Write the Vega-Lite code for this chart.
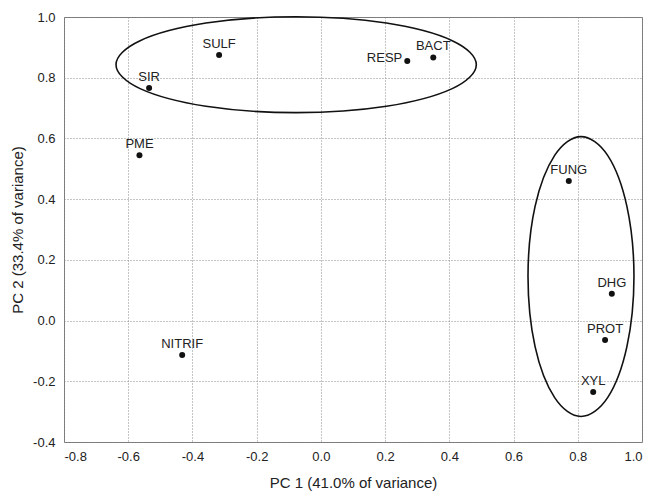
{
  "$schema": "https://vega.github.io/schema/vega-lite/v6.json",
  "width": 578,
  "height": 425,
  "autosize": "none",
  "padding": {"left": 64, "top": 17, "right": 20, "bottom": 60},
  "background": "white",
  "config": {
    "view": {"stroke": "#777", "strokeWidth": 1},
    "font": "Liberation Sans",
    "axis": {
      "domain": false,
      "ticks": false,
      "grid": true,
      "gridColor": "#8a8a8a",
      "gridDash": [1, 2],
      "gridWidth": 1,
      "gridOpacity": 1,
      "labelFont": "Liberation Sans",
      "labelFontSize": 13,
      "labelColor": "#222",
      "titleFont": "Liberation Sans",
      "titleFontSize": 15,
      "titleFontWeight": "normal",
      "titleColor": "#222"
    }
  },
  "datasets": {
    "pts": [
      {"name": "SULF", "pc1": -0.317, "pc2": 0.875},
      {"name": "SIR", "pc1": -0.535, "pc2": 0.766},
      {"name": "PME", "pc1": -0.565, "pc2": 0.545},
      {"name": "NITRIF", "pc1": -0.432, "pc2": -0.113},
      {"name": "RESP", "pc1": 0.269, "pc2": 0.855},
      {"name": "BACT", "pc1": 0.35, "pc2": 0.867},
      {"name": "FUNG", "pc1": 0.772, "pc2": 0.46},
      {"name": "DHG", "pc1": 0.906, "pc2": 0.088},
      {"name": "PROT", "pc1": 0.885, "pc2": -0.064},
      {"name": "XYL", "pc1": 0.848, "pc2": -0.235}
    ],
    "ell": [
      {"g": "A", "k": 0, "pc1": 0.484, "pc2": 0.843},
      {"g": "A", "k": 1, "pc1": 0.409, "pc2": 0.922},
      {"g": "A", "k": 2, "pc1": 0.204, "pc2": 0.98},
      {"g": "A", "k": 3, "pc1": -0.077, "pc2": 1.001},
      {"g": "A", "k": 4, "pc1": -0.358, "pc2": 0.98},
      {"g": "A", "k": 5, "pc1": -0.563, "pc2": 0.922},
      {"g": "A", "k": 6, "pc1": -0.638, "pc2": 0.843},
      {"g": "A", "k": 7, "pc1": -0.563, "pc2": 0.764},
      {"g": "A", "k": 8, "pc1": -0.358, "pc2": 0.706},
      {"g": "A", "k": 9, "pc1": -0.077, "pc2": 0.685},
      {"g": "A", "k": 10, "pc1": 0.204, "pc2": 0.706},
      {"g": "A", "k": 11, "pc1": 0.409, "pc2": 0.764},
      {"g": "B", "k": 0, "pc1": 0.975, "pc2": 0.145},
      {"g": "B", "k": 1, "pc1": 0.953, "pc2": 0.376},
      {"g": "B", "k": 2, "pc1": 0.893, "pc2": 0.544},
      {"g": "B", "k": 3, "pc1": 0.81, "pc2": 0.606},
      {"g": "B", "k": 4, "pc1": 0.728, "pc2": 0.544},
      {"g": "B", "k": 5, "pc1": 0.667, "pc2": 0.376},
      {"g": "B", "k": 6, "pc1": 0.645, "pc2": 0.145},
      {"g": "B", "k": 7, "pc1": 0.667, "pc2": -0.086},
      {"g": "B", "k": 8, "pc1": 0.728, "pc2": -0.254},
      {"g": "B", "k": 9, "pc1": 0.81, "pc2": -0.316},
      {"g": "B", "k": 10, "pc1": 0.893, "pc2": -0.254},
      {"g": "B", "k": 11, "pc1": 0.953, "pc2": -0.086}
    ]
  },
  "layer": [
    {
      "data": {"name": "ell"},
      "mark": {"type": "line", "interpolate": "cardinal-closed", "color": "#111", "strokeWidth": 1.6},
      "encoding": {
        "x": {
          "field": "pc1", "type": "quantitative",
          "scale": {"domain": [-0.8, 1.0], "nice": false, "zero": false},
          "axis": {
            "values": [-0.8, -0.6, -0.4, -0.2, 0, 0.2, 0.4, 0.6, 0.8, 1.0],
            "labelExpr": "(datum.value < -0.0001 ? '-' : '') + format(abs(datum.value), '.1f')",
            "labelPadding": 8,
            "title": "PC 1 (41.0% of variance)",
            "titleX": 289,
            "titleY": 45,
            "titleBaseline": "alphabetic",
            "titleAnchor": null
          }
        },
        "y": {
          "field": "pc2", "type": "quantitative",
          "scale": {"domain": [-0.4, 1.0], "nice": false, "zero": false},
          "axis": {
            "values": [-0.4, -0.2, 0, 0.2, 0.4, 0.6, 0.8, 1.0],
            "labelExpr": "(datum.value < -0.0001 ? '-' : '') + format(abs(datum.value), '.1f')",
            "labelPadding": 9,
            "title": "PC 2 (33.4% of variance)",
            "titleX": -47,
            "titleY": 212.5,
            "titleBaseline": "middle",
            "titleAlign": "center",
            "titleAngle": -90
          }
        },
        "detail": {"field": "g"},
        "order": {"field": "k", "type": "quantitative"}
      }
    },
    {
      "data": {"name": "pts"},
      "mark": {"type": "circle", "size": 36, "color": "#111", "opacity": 1},
      "encoding": {
        "x": {"field": "pc1", "type": "quantitative"},
        "y": {"field": "pc2", "type": "quantitative"}
      }
    },
    {
      "data": {"name": "pts"},
      "transform": [{"filter": "datum.name != 'RESP'"}],
      "mark": {"type": "text", "align": "center", "baseline": "alphabetic", "dy": -7, "fontSize": 13, "font": "Liberation Sans", "color": "#222"},
      "encoding": {
        "x": {"field": "pc1", "type": "quantitative"},
        "y": {"field": "pc2", "type": "quantitative"},
        "text": {"field": "name"}
      }
    },
    {
      "data": {"name": "pts"},
      "transform": [{"filter": "datum.name == 'RESP'"}],
      "mark": {"type": "text", "align": "right", "baseline": "alphabetic", "dx": -5, "dy": 1, "fontSize": 13, "font": "Liberation Sans", "color": "#222"},
      "encoding": {
        "x": {"field": "pc1", "type": "quantitative"},
        "y": {"field": "pc2", "type": "quantitative"},
        "text": {"field": "name"}
      }
    }
  ]
}
